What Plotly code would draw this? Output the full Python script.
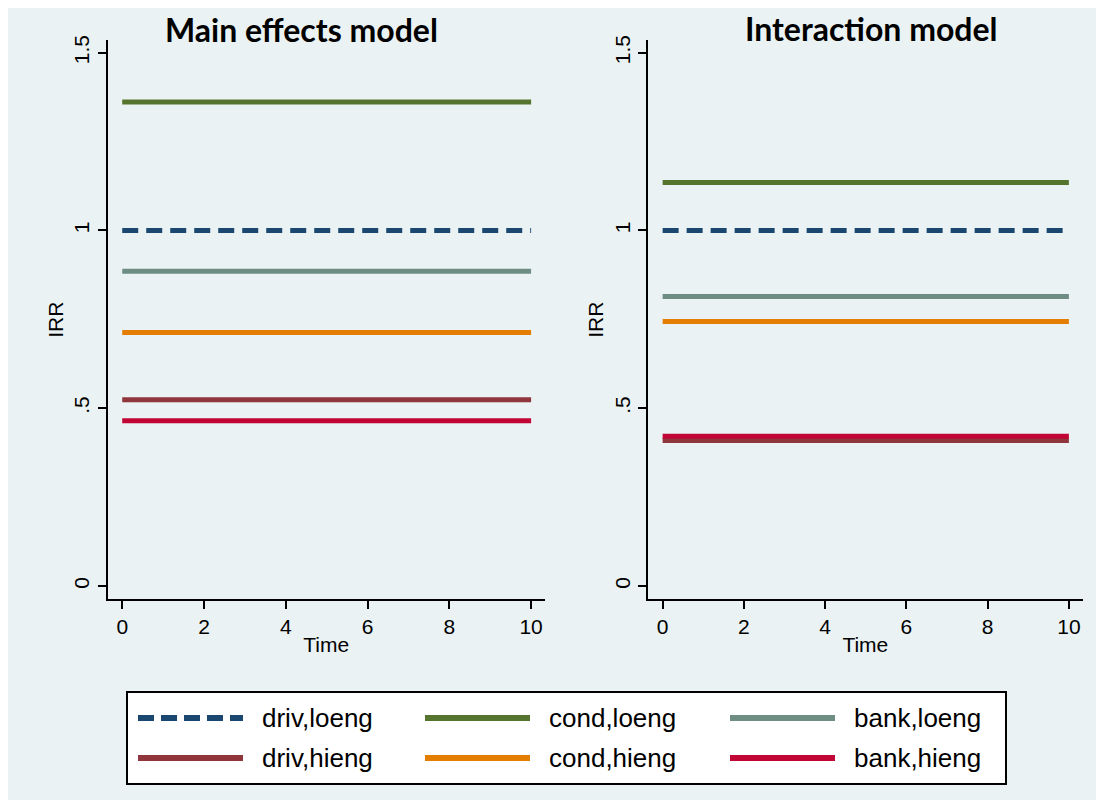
import plotly.graph_objects as go

# page body has an 8px margin, so the figure is placed at (8, 8) in the window
OFF = 8
W, H = 1104 - OFF, 806 - OFF

series = ["driv,loeng", "cond,loeng", "bank,loeng", "driv,hieng", "cond,hieng", "bank,hieng"]
colors = ["#1A476F", "#55752F", "#6E8E84", "#90353B", "#E37E00", "#C10534"]
dashes = ["16px,8px", "solid", "solid", "solid", "solid", "solid"]

time = [0, 10]
main_irr = [1.0, 1.361, 0.885, 0.524, 0.713, 0.465]
inter_irr = [1.0, 1.135, 0.814, 0.409, 0.744, 0.421]

titles = ["Main effects model", "Interaction model"]
y_ticks = [0, 0.5, 1, 1.5]
y_tick_text = ["0", ".5", "1", "1.5"]
x_ticks = [0, 2, 4, 6, 8, 10]

bg = "#EAF2F3"

fig = go.Figure()
for i, name in enumerate(series):
    fig.add_trace(go.Scatter(x=time, y=[main_irr[i]] * 2, mode="lines", name=name,
                             line=dict(color=colors[i], width=5, dash=dashes[i]),
                             xaxis="x", yaxis="y", showlegend=False))
for i, name in enumerate(series):
    fig.add_trace(go.Scatter(x=time, y=[inter_irr[i]] * 2, mode="lines", name=name,
                             line=dict(color=colors[i], width=5, dash=dashes[i]),
                             xaxis="x2", yaxis="y2", showlegend=False))

def px_x(p):
    return (p - OFF) / W

def px_y(p):
    return 1 - (p - OFF) / H

tickfont = dict(family="Liberation Sans, Arial", size=21, color="#000")
xax = dict(range=[-0.36, 10.34], tickvals=x_ticks, ticks="outside", ticklen=8, tickwidth=1.5,
           tickcolor="#000", showline=True, linecolor="#000", linewidth=1.5, showgrid=False,
           zeroline=False, tickfont=tickfont, automargin=False,
           title=dict(text="Time", font=tickfont, standoff=0))
yax = dict(range=[-0.0374, 1.5357], tickvals=y_ticks, ticktext=y_tick_text, tickangle=-90,
           ticks="outside", ticklen=8, tickwidth=1.5, tickcolor="#000", showline=True,
           linecolor="#000", linewidth=1.5, showgrid=True, gridcolor=bg, gridwidth=2,
           zeroline=False, tickfont=tickfont, automargin=False,
           title=dict(text="IRR", font=tickfont, standoff=1))

shapes = [dict(type="rect", xref="paper", yref="paper", x0=0, x1=px_x(1097),
               y0=px_y(800), y1=1, fillcolor=bg, line=dict(width=0), layer="below"),
          dict(type="rect", xref="paper", yref="paper", x0=px_x(127), x1=px_x(1006),
               y0=px_y(784), y1=px_y(692), fillcolor="white", line=dict(color="#000", width=2),
               layer="below")]
annotations = [
    dict(text="<b>" + titles[0] + "</b>", x=px_x(301), y=px_y(9), xref="paper", yref="paper",
         showarrow=False, xanchor="center", yanchor="top", borderpad=0,
         font=dict(family="Lato", size=32, color="#000")),
    dict(text="<b>" + titles[1] + "</b>", x=px_x(871), y=px_y(8), xref="paper", yref="paper",
         showarrow=False, xanchor="center", yanchor="top", borderpad=0,
         font=dict(family="Lato", size=32, color="#000")),
]

# legend (3 columns x 2 rows)
col_sym_x = [138, 425, 730]
row_y = [718, 758]
sym_len = 105
for i, name in enumerate(series):
    r, c = divmod(i, 3)
    x0 = col_sym_x[c]
    yy = px_y(row_y[r])
    shapes.append(dict(type="line", xref="paper", yref="paper", x0=px_x(x0), x1=px_x(x0 + sym_len),
                       y0=yy, y1=yy, line=dict(color=colors[i], width=6,
                                                 dash="16px,7px" if dashes[i] != "solid" else "solid")))
    annotations.append(dict(text=name, x=px_x(x0 + sym_len + 17), y=yy, xref="paper", yref="paper",
                            showarrow=False, xanchor="left", yanchor="middle",
                            font=dict(family="Liberation Sans, Arial", size=26, color="#000")))

fig.update_layout(
    width=W, height=H,
    margin=dict(l=0, r=0, t=0, b=0),
    paper_bgcolor="white", plot_bgcolor="white",
    showlegend=False,
    xaxis=dict(domain=[px_x(107.5), px_x(545)], anchor="y", **xax),
    yaxis=dict(domain=[px_y(599.3), px_y(40)], anchor="x", **yax),
    xaxis2=dict(domain=[px_x(648), px_x(1082.7)], anchor="y2", **xax),
    yaxis2=dict(domain=[px_y(599.3), px_y(40)], anchor="x2", **yax),
    shapes=shapes,
    annotations=annotations,
)

fig.write_html("out.html")
